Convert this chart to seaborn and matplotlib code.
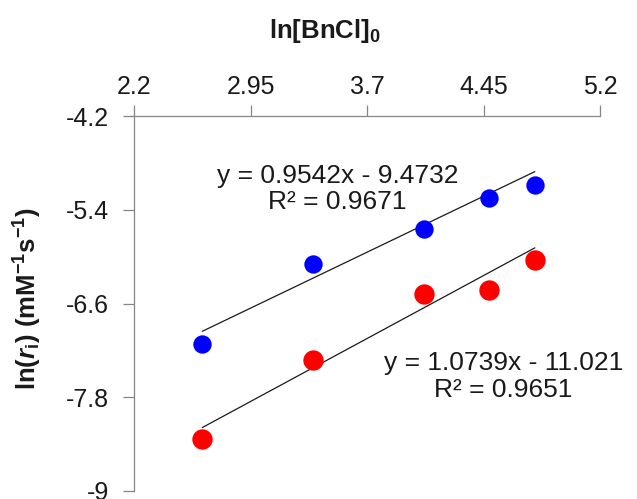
import numpy as np
import pandas as pd
import matplotlib
matplotlib.use("Agg")
import matplotlib.pyplot as plt
import seaborn as sns

# ln of initial BnCl concentration
ln_bncl = [2.638, 3.353, 4.067, 4.486, 4.780]
# ln of initial rate for the two series
ln_rate_blue = [-7.12, -6.09, -5.65, -5.25, -5.08]
ln_rate_red = [-8.34, -7.32, -6.48, -6.43, -6.04]

# linear trendlines (slope, intercept, R^2)
fit_blue = (0.9542, -9.4732, 0.9671)
fit_red = (1.0739, -11.021, 0.9651)

x_ticks = [2.2, 2.95, 3.7, 4.45, 5.2]
y_ticks = [-4.2, -5.4, -6.6, -7.8, -9]

sns.set_theme(style="white")
plt.rcParams["font.family"] = ["Liberation Sans", "DejaVu Sans"]
plt.rcParams["mathtext.fontset"] = "custom"
plt.rcParams["mathtext.rm"] = "Liberation Sans"
plt.rcParams["mathtext.bf"] = "Liberation Sans:bold"
plt.rcParams["mathtext.it"] = "Liberation Sans:italic"
plt.rcParams["mathtext.bfit"] = "Liberation Sans:bold:italic"

W, H = 637, 499
fig = plt.figure(figsize=(W / 100, H / 100), dpi=100)
ax = fig.add_axes([134.3 / W, 1 - 491 / H, (600 - 134.3) / W, (491 - 116) / H])

df_blue = pd.DataFrame({"x": ln_bncl, "y": ln_rate_blue})
df_red = pd.DataFrame({"x": ln_bncl, "y": ln_rate_red})

# trendlines spanning the data range
for fit in (fit_blue, fit_red):
    xs = np.array([min(ln_bncl), max(ln_bncl)])
    line = pd.DataFrame({"x": xs, "y": fit[0] * xs + fit[1]})
    sns.lineplot(data=line, x="x", y="y", ax=ax, color="#1a1a1a", lw=0.9, zorder=2)

sns.scatterplot(data=df_blue, x="x", y="y", ax=ax, color="#0000FF", s=175,
                linewidth=0, zorder=3)
sns.scatterplot(data=df_red, x="x", y="y", ax=ax, color="#FF0000", s=215,
                linewidth=0, zorder=3)

ax.set_xlim(2.2, 5.2)
ax.set_ylim(-9, -4.2)
ax.set_xticks(x_ticks)
ax.set_xticklabels([f"{v:g}" for v in x_ticks])
ax.set_yticks(y_ticks)
ax.set_yticklabels([f"{v:g}" for v in y_ticks])
ax.xaxis.tick_top()
ax.set_xlabel("")
ax.set_ylabel("")

for side in ("bottom", "right"):
    ax.spines[side].set_visible(False)
for side in ("top", "left"):
    ax.spines[side].set_color("#868686")
    ax.spines[side].set_linewidth(0.9)

ax.tick_params(axis="x", which="both", top=True, bottom=False, direction="out",
               length=8, width=0.9, color="#868686", labelsize=18, pad=4,
               labelcolor="#1a1a1a")
ax.tick_params(axis="y", which="both", left=True, direction="out",
               length=8, width=0.9, color="#868686", labelsize=18, pad=10,
               labelcolor="#1a1a1a")

fig.text(325 / W, 1 - 31 / H, r"$\mathbf{ln[BnCl]_0}$", ha="center", va="center",
         fontsize=18.5, color="#1a1a1a")
fig.text(28 / W, 1 - 299 / H,
         r"$\mathbf{ln(}\mathbfit{r}_\mathbf{i}\mathbf{)\ (mM}^{\mathbf{-1}}\mathbf{s}^{\mathbf{-1}}\mathbf{)}$",
         ha="center", va="center", rotation=90, fontsize=18.5, color="#1a1a1a")

for fit, (tx, ty) in ((fit_blue, (3.51, -5.13)), (fit_red, (4.577, -7.535))):
    sign = "-" if fit[1] < 0 else "+"
    label = f"y = {fit[0]:.4f}x {sign} {abs(fit[1]):g}\nR² = {fit[2]:.4f}"
    ax.text(tx, ty, label, ha="center", va="center", fontsize=19,
            color="#1a1a1a", linespacing=1.12, zorder=4)

fig.savefig("out.png", dpi=100)
